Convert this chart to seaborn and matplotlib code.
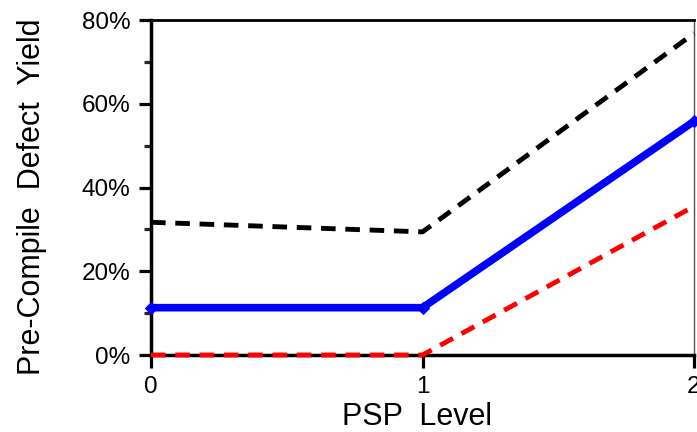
import matplotlib
matplotlib.use("Agg")
import matplotlib.pyplot as plt
from matplotlib.ticker import MultipleLocator, PercentFormatter
import seaborn as sns
import pandas as pd

sns.set_theme(style="white")
plt.rcParams["font.family"] = ["Liberation Sans", "DejaVu Sans"]
plt.rcParams["text.color"] = "black"
plt.rcParams["axes.labelcolor"] = "black"

psp_level = [0, 1, 2]
upper_yield = [31.7, 29.4, 76.8]
mean_yield = [11.3, 11.3, 55.8]
lower_yield = [0.0, 0.0, 35.5]

df = pd.DataFrame({"level": psp_level, "upper": upper_yield,
                   "mean": mean_yield, "lower": lower_yield})

fig = plt.figure(figsize=(6.97, 4.32), dpi=100)
ax = fig.add_axes([151 / 697, 1 - 355 / 432, (694 - 151) / 697, (355 - 20) / 432])

sns.lineplot(data=df, x="level", y="upper", ax=ax, color="black",
             linewidth=3.5, linestyle=(0, (3, 2.0)), clip_on=False, zorder=3)
sns.lineplot(data=df, x="level", y="lower", ax=ax, color="red",
             linewidth=3.5, linestyle=(0, (3, 2.0)), clip_on=False, zorder=3)
sns.lineplot(data=df, x="level", y="mean", ax=ax, color="blue",
             linewidth=5.5, marker="D", markersize=6.5, markeredgecolor="blue",
             clip_on=False, zorder=4)

ax.set_xlim(0, 2)
ax.set_ylim(0, 80)
ax.set_xticks(psp_level)
ax.yaxis.set_major_locator(MultipleLocator(20))
ax.yaxis.set_minor_locator(MultipleLocator(10))
ax.yaxis.set_major_formatter(PercentFormatter(decimals=0))

for side in ("left", "bottom"):
    ax.spines[side].set_linewidth(2.5)
    ax.spines[side].set_color("black")
ax.spines["top"].set_linewidth(2.0)
ax.spines["top"].set_color("black")
ax.spines["right"].set_linewidth(1.0)
ax.spines["right"].set_color("#555555")

ax.tick_params(axis="both", which="major", direction="out", length=9, width=2.3,
               labelsize=17.5, colors="black", labelcolor="black", pad=6,
               left=True, bottom=True)
ax.tick_params(axis="y", which="minor", direction="out", length=5, width=2.3,
               left=True)

ax.set_xlabel("PSP  Level", fontsize=22)
ax.set_ylabel("Pre-Compile  Defect  Yield", fontsize=22)
ax.xaxis.set_label_coords((416.5 - 151) / 543, (355 - 402) / 335)
ax.yaxis.set_label_coords((47 - 151) / 543, (355 - 196.5) / 335)

fig.savefig("out.png", dpi=100)
